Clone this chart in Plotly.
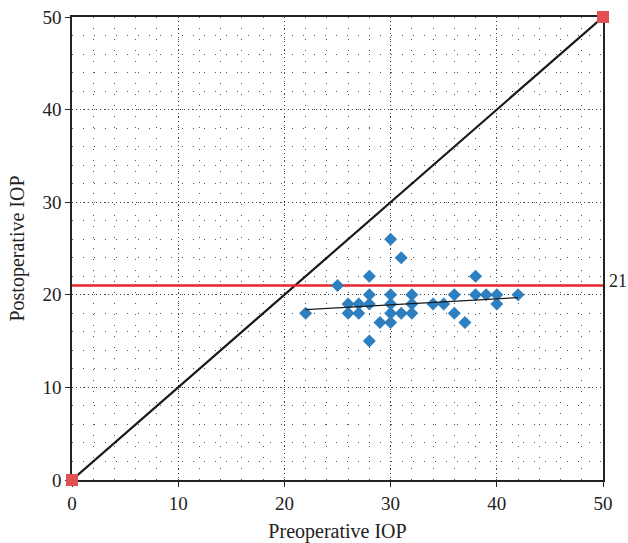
import plotly.graph_objects as go

pre_iop = [22, 25, 26, 26, 27, 27, 28, 28, 28, 28, 29, 30, 30, 30, 30, 30,
           31, 31, 32, 32, 32, 34, 35, 36, 36, 37, 38, 38, 39, 40, 40, 42]
post_iop = [18, 21, 19, 18, 19, 18, 22, 20, 19, 15, 17, 26, 20, 19, 18, 17,
            24, 18, 20, 19, 18, 19, 19, 20, 18, 17, 22, 20, 20, 20, 19, 20]
identity_x = [0, 50]
identity_y = [0, 50]
threshold = 21
axis_range = [0, 50]
tick_vals = [0, 10, 20, 30, 40, 50]
fit_x = [22, 42]
fit_y = [18.4, 19.7]

fig = go.Figure()
fig.add_trace(go.Scatter(x=identity_x, y=identity_y, mode="lines+markers",
                         line=dict(color="#1a1a1a", width=2.2),
                         marker=dict(symbol="square", size=12, color="#e05252"),
                         cliponaxis=False, showlegend=False))
fig.add_trace(go.Scatter(x=axis_range, y=[threshold, threshold], mode="lines",
                         line=dict(color="#e8262b", width=2.5),
                         cliponaxis=False, showlegend=False))
fig.add_trace(go.Scatter(x=pre_iop, y=post_iop, mode="markers",
                         marker=dict(symbol="diamond", size=10, color="#2e7fc0"),
                         showlegend=False))
fig.add_trace(go.Scatter(x=fit_x, y=fit_y, mode="lines",
                         line=dict(color="#1a1a1a", width=1.3),
                         showlegend=False))

fig.add_annotation(x=1, xref="paper", y=threshold, yref="y", text=str(threshold),
                   showarrow=False, xanchor="left", xshift=4, yshift=5,
                   font=dict(size=18, color="#222"))

axis_common = dict(
    range=axis_range, tickvals=tick_vals, showline=True, linecolor="#222",
    linewidth=1.5, mirror=True, ticks="outside", ticklen=5, tickcolor="#222",
    showgrid=True, gridcolor="#444", gridwidth=1, griddash="1px,3px",
    zeroline=False, automargin=False, layer="below traces",
    minor=dict(dtick=2, showgrid=True, gridcolor="#555", gridwidth=1,
               griddash="1px,10px", ticks=""),
    tickfont=dict(size=19, color="#222"),
)
fig.update_xaxes(**axis_common, title=dict(text="Preoperative IOP",
                 font=dict(size=20, color="#222"), standoff=12))
fig.update_yaxes(**axis_common, title=dict(text="Postoperative IOP",
                 font=dict(size=20, color="#222"), standoff=12))

fig.update_layout(
    width=628, height=543,
    margin=dict(l=72, r=25, t=17, b=63),
    plot_bgcolor="white", paper_bgcolor="white",
    font=dict(family="Liberation Serif, DejaVu Serif, serif", color="#222"),
)
fig.write_html("out.html", config={"displayModeBar": False},
               post_script="document.body.style.margin='0';document.body.style.overflow='hidden';")
